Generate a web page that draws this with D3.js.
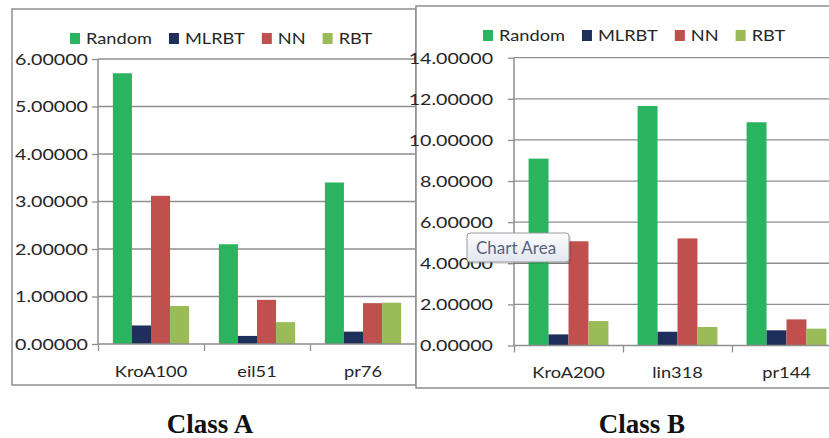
<!DOCTYPE html>
<html><head><meta charset="utf-8">
<script src="https://cdn.jsdelivr.net/npm/d3@7"></script>
<style>body{margin:0;background:#fff}</style>
</head><body>
<svg id="c" width="829" height="438"></svg>
<script>
// ---- data ----
const series = ["Random", "MLRBT", "NN", "RBT"];
const seriesColors = ["#2bb45f", "#1f2f5c", "#c0504d", "#9bbb59"];

const classACategories = ["KroA100", "eil51", "pr76"];
const classARandom = [5.70, 2.10, 3.40];
const classAMLRBT  = [0.39, 0.17, 0.26];
const classANN     = [3.12, 0.93, 0.86];
const classARBT    = [0.80, 0.46, 0.87];
const classAYTicks = [0, 1, 2, 3, 4, 5, 6];

const classBCategories = ["KroA200", "lin318", "pr144"];
const classBRandom = [9.09, 11.65, 10.86];
const classBMLRBT  = [0.54, 0.67, 0.74];
const classBNN     = [5.07, 5.21, 1.27];
const classBRBT    = [1.19, 0.90, 0.82];
const classBYTicks = [0, 2, 4, 6, 8, 10, 12, 14];

const panelTitles = ["Class A", "Class B"];
const tooltipText = "Chart Area";

// ---- drawing ----
const FONT = "Lato, 'Open Sans', sans-serif";
const FS = 15;
const GRID = "#8e8e8e";
const TXT = "#262626";
const svg = d3.select("#c");

function measure(s) {
  const p = svg.append("text").attr("font-family", FONT).attr("font-size", FS).text(s);
  const w = p.node().getComputedTextLength();
  p.remove();
  return w;
}
const sx = 73 / measure("6.00000");   // numeric tick labels
const sxL = 66 / measure("Random");   // word labels

function panel(o) {
  const g = svg.append("g");
  g.append("rect").attr("x", o.box[0]).attr("y", o.box[1]).attr("width", o.box[2]).attr("height", o.box[3])
    .attr("fill", "#fff").attr("stroke", GRID).attr("stroke-width", 1.5);

  const y = d3.scaleLinear().domain([0, d3.max(o.yTicks)]).range([o.plot.bottom, o.plot.top]);
  const x0 = d3.scaleBand().domain(o.categories).range([o.plot.left, o.plot.right]);
  const x1 = d3.scaleBand().domain(series).range([0, x0.bandwidth()]).paddingOuter(o.pad);

  g.append("g").selectAll("line").data(o.yTicks.slice(1)).join("line")
    .attr("x1", o.plot.left).attr("x2", o.plot.right)
    .attr("y1", d => y(d)).attr("y2", d => y(d))
    .attr("stroke", GRID).attr("stroke-width", 1.3);

  g.append("g").selectAll("g").data(series).join("g")
    .attr("fill", (d, i) => seriesColors[i])
    .selectAll("rect")
    .data((s, i) => o.categories.map((c, j) => ({ c, s, v: o.values[i][j] })))
    .join("rect")
    .attr("x", d => x0(d.c) + x1(d.s))
    .attr("width", x1.bandwidth())
    .attr("y", d => y(d.v))
    .attr("height", d => y(0) - y(d.v));

  const ya = g.append("g").attr("transform", `translate(${o.plot.left},0)`)
    .call(d3.axisLeft(y).tickValues(o.yTicks).tickFormat(d3.format(".5f")).tickSize(6));
  ya.select(".domain").remove();
  ya.selectAll("line").attr("stroke", GRID).attr("stroke-width", 1.3);
  ya.selectAll("text").attr("font-family", FONT).attr("font-size", FS).attr("fill", TXT)
    .attr("x", -o.labelGap / sx).attr("dy", "0.36em")
    .attr("transform", `scale(${sx},1)`);

  g.append("line").attr("x1", o.plot.left).attr("x2", o.plot.left)
    .attr("y1", o.plot.top).attr("y2", o.plot.bottom)
    .attr("stroke", GRID).attr("stroke-width", 1.5);
  g.append("line").attr("x1", o.plot.left).attr("x2", o.plot.right)
    .attr("y1", y(0)).attr("y2", y(0))
    .attr("stroke", GRID).attr("stroke-width", 1.5);

  const xb = d3.scaleLinear().domain([0, o.categories.length]).range([o.plot.left, o.plot.right]);
  const bt = g.append("g").attr("transform", `translate(0,${y(0)})`)
    .call(d3.axisBottom(xb).tickValues(d3.range(o.categories.length + 1)).tickFormat("").tickSize(7));
  bt.select(".domain").remove();
  bt.selectAll("line").attr("stroke", GRID).attr("stroke-width", 1.3);

  const xa = g.append("g").attr("transform", `translate(0,${y(0)})`)
    .call(d3.axisBottom(x0).tickSize(0));
  xa.select(".domain").remove();
  xa.selectAll("text").attr("font-family", FONT).attr("font-size", FS).attr("fill", TXT)
    .attr("y", o.labelDy).attr("dy", 0)
    .attr("transform", `scale(${sxL},1)`);

  let lx = o.legend[0];
  series.forEach((s, i) => {
    g.append("rect").attr("x", lx).attr("y", o.legend[1] - 11).attr("width", 10).attr("height", 11)
      .attr("fill", seriesColors[i]);
    const t = g.append("text").attr("font-family", FONT).attr("font-size", FS).attr("fill", TXT)
      .attr("transform", `translate(${lx + 16},${o.legend[1]}) scale(${sxL},1)`).text(s);
    const w = t.node().getComputedTextLength() * sxL;
    lx += 16 + w + 17;
  });

  svg.append("text").attr("x", o.title[0]).attr("y", o.title[1]).attr("text-anchor", "middle")
    .attr("font-family", "'Liberation Serif', 'Times New Roman', serif").attr("font-weight", "bold")
    .attr("font-size", 27).attr("fill", "#111").text(o.titleText);
}

panel({
  box: [12, 9, 404, 376],
  plot: { left: 98, right: 416, top: 59, bottom: 344 },
  categories: classACategories,
  values: [classARandom, classAMLRBT, classANN, classARBT],
  yTicks: classAYTicks,
  pad: 0.78, labelGap: 10, labelDy: 33,
  legend: [70, 44],
  title: [210, 433], titleText: panelTitles[0]
});

panel({
  box: [416, 6, 440, 382],
  plot: { left: 514, right: 841, top: 57.7, bottom: 345.5 },
  categories: classBCategories,
  values: [classBRandom, classBMLRBT, classBNN, classBRBT],
  yTicks: classBYTicks,
  pad: 0.73, labelGap: 21, labelDy: 33,
  legend: [483, 41],
  title: [642, 433], titleText: panelTitles[1]
});

const defs = svg.append("defs");
const grad = defs.append("linearGradient").attr("id", "tip").attr("x1", 0).attr("y1", 0).attr("x2", 0).attr("y2", 1);
grad.append("stop").attr("offset", "0%").attr("stop-color", "#fdfdfe");
grad.append("stop").attr("offset", "100%").attr("stop-color", "#e2e6ef");
const tip = svg.append("g");
tip.append("rect").attr("x", 469).attr("y", 235).attr("width", 102).attr("height", 29).attr("rx", 3)
  .attr("fill", "#000").attr("opacity", 0.12);
tip.append("rect").attr("x", 467).attr("y", 233).attr("width", 102).attr("height", 29).attr("rx", 3)
  .attr("fill", "url(#tip)").attr("stroke", "#9a9a9a").attr("stroke-width", 1);
tip.append("text").attr("x", 476).attr("y", 254).attr("font-family", FONT).attr("font-size", 17)
  .attr("fill", "#56647e").text(tooltipText);
</script>
</body></html>
